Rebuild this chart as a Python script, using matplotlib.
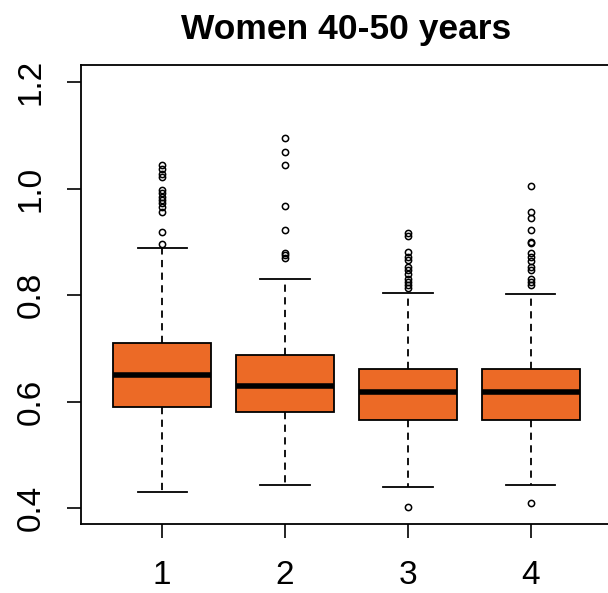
import matplotlib
matplotlib.use('Agg')
import matplotlib.pyplot as plt

# box statistics
groups = [1, 2, 3, 4]
q1 = [0.589, 0.581, 0.565, 0.565]
medians = [0.650, 0.630, 0.617, 0.617]
q3 = [0.710, 0.687, 0.662, 0.662]
whis_lo = [0.431, 0.443, 0.439, 0.443]
whis_hi = [0.888, 0.830, 0.804, 0.802]

outliers_1 = [1.044, 1.036, 1.027, 1.021, 0.997, 0.991, 0.985, 0.978, 0.972,
              0.965, 0.956, 0.919, 0.895]
outliers_2 = [1.094, 1.069, 1.045, 0.967, 0.923, 0.879, 0.875, 0.870]
outliers_3 = [0.917, 0.911, 0.881, 0.872, 0.866, 0.853, 0.847, 0.839, 0.831,
              0.825, 0.819, 0.813, 0.402]
outliers_4 = [1.005, 0.955, 0.944, 0.923, 0.900, 0.897, 0.878, 0.871, 0.863,
              0.853, 0.847, 0.831, 0.825, 0.819, 0.410]
outliers = [outliers_1, outliers_2, outliers_3, outliers_4]

yticks = [0.4, 0.6, 0.8, 1.0, 1.2]
title = 'Women 40-50 years'

plt.rcParams['font.family'] = ['Liberation Sans', 'DejaVu Sans']

fig = plt.figure(figsize=(6.08, 5.93), dpi=100)
# plot region runs past the right edge of the image, like the original
ax = fig.add_axes([81 / 608, 1 - 524 / 593, 531 / 608, 459 / 593])

stats = []
for i in range(len(groups)):
    stats.append({'med': medians[i], 'q1': q1[i], 'q3': q3[i],
                  'whislo': whis_lo[i], 'whishi': whis_hi[i],
                  'fliers': outliers[i], 'label': str(groups[i])})

ax.bxp(stats, positions=groups, widths=0.8, capwidths=0.4, patch_artist=True,
       boxprops=dict(facecolor='#EC6A26', edgecolor='black', linewidth=1.3),
       medianprops=dict(color='black', linewidth=4.0, solid_capstyle='butt'),
       whiskerprops=dict(color='black', linewidth=1.3, linestyle=(0, (4, 3))),
       capprops=dict(color='black', linewidth=1.3),
       flierprops=dict(marker='o', markersize=4.5, markerfacecolor='none',
                       markeredgecolor='black', markeredgewidth=1.1))

ax.set_xlim(0.34, 4.66)
ax.set_ylim(0.37, 1.232)
ax.set_yticks(yticks)
ax.set_yticklabels([f'{v:.1f}' for v in yticks], rotation=90, va='center')
ax.set_xticks(groups)
ax.set_xticklabels([str(g) for g in groups])
ax.tick_params(axis='both', labelsize=24, length=10, width=1.2, direction='out')
ax.tick_params(axis='x', pad=16)
ax.tick_params(axis='y', pad=15)
for s in ax.spines.values():
    s.set_linewidth(1.3)

ax.set_title(title, fontsize=25.5, fontweight='bold', pad=19, x=0.5)

fig.savefig('out.png', dpi=100)
